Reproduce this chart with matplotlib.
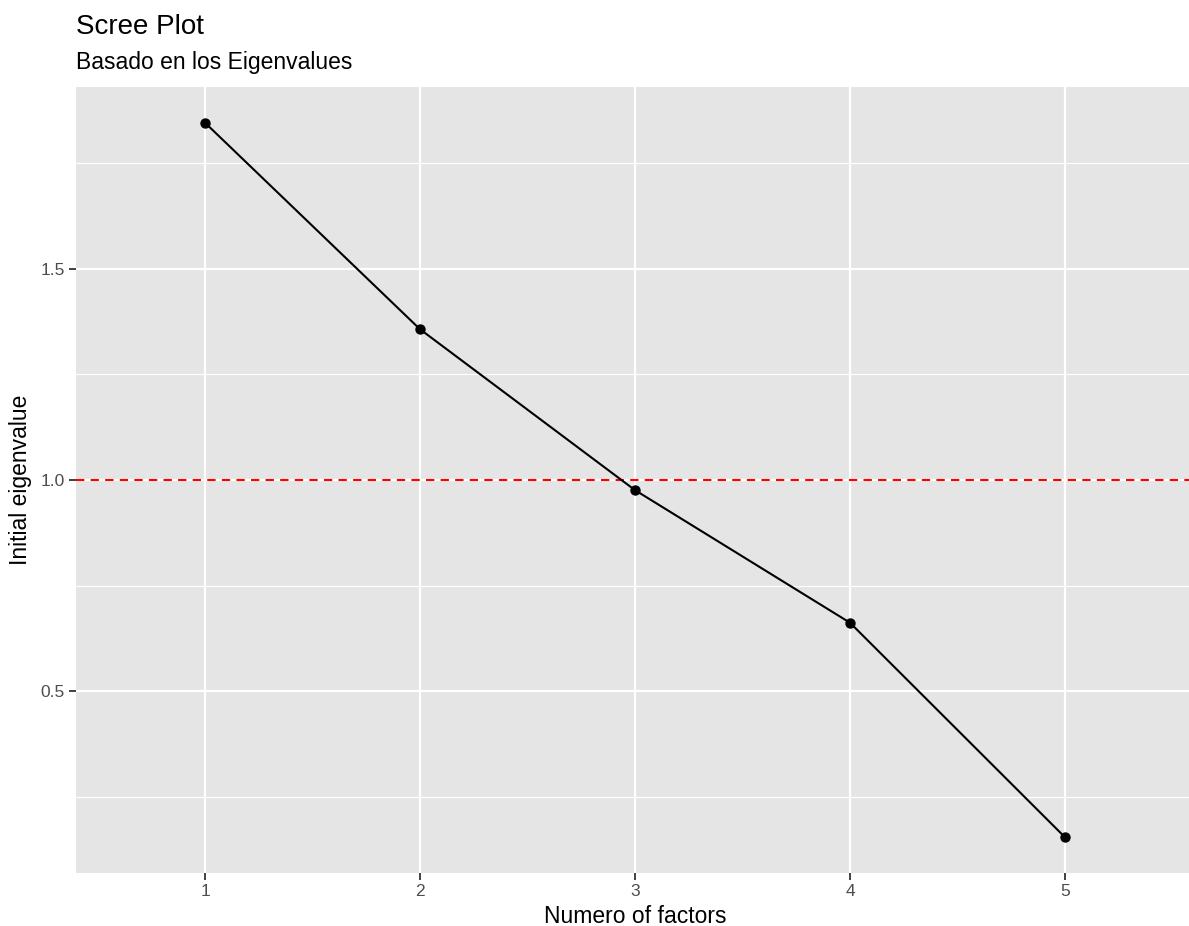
import matplotlib.pyplot as plt
from matplotlib.ticker import MultipleLocator

factors = [1, 2, 3, 4, 5]
eigenvalues = [1.846, 1.357, 0.976, 0.662, 0.154]
cutoff = 1.0

W, H = 1189, 926
fig = plt.figure(figsize=(W / 100, H / 100), dpi=100)
plt.rcParams['font.family'] = ['Liberation Sans', 'DejaVu Sans']

left, right, top, bottom = 76, 1194, 87, 873
ax = fig.add_axes([left / W, (H - bottom) / H, (right - left) / W, (bottom - top) / H])
ax.set_facecolor('#E5E5E5')
for s in ax.spines.values():
    s.set_visible(False)

ax.set_xlim(0.4, 5.6)
ax.set_ylim(0.0694, 1.9306)
ax.set_xticks(factors)
ax.yaxis.set_major_locator(MultipleLocator(0.5))
ax.yaxis.set_minor_locator(MultipleLocator(0.25))
ax.grid(which='major', color='white', linewidth=1.6)
ax.grid(which='minor', axis='y', color='white', linewidth=0.8)
ax.set_axisbelow(True)
ax.tick_params(which='major', colors='#333333', labelcolor='#4D4D4D', labelsize=12.5,
               length=5, width=1.3, pad=3)
ax.tick_params(which='minor', length=0)

ax.plot(factors, eigenvalues, color='black', linewidth=1.5, zorder=3)
ax.scatter(factors, eigenvalues, color='black', s=42, zorder=4)
ax.axhline(cutoff, color='red', linestyle=(0, (4, 3)), linewidth=1.5, zorder=2)

ax.set_xlabel('Numero of factors', fontsize=16.5, labelpad=4)
ax.set_ylabel('Initial eigenvalue', fontsize=16.5, labelpad=6)

fig.text(left / W, 1 - 27 / H, 'Scree Plot', fontsize=20, va='center', ha='left')
fig.text(left / W, 1 - 63 / H, 'Basado en los Eigenvalues', fontsize=16.5, va='center', ha='left')

plt.savefig('out.png', dpi=100)
